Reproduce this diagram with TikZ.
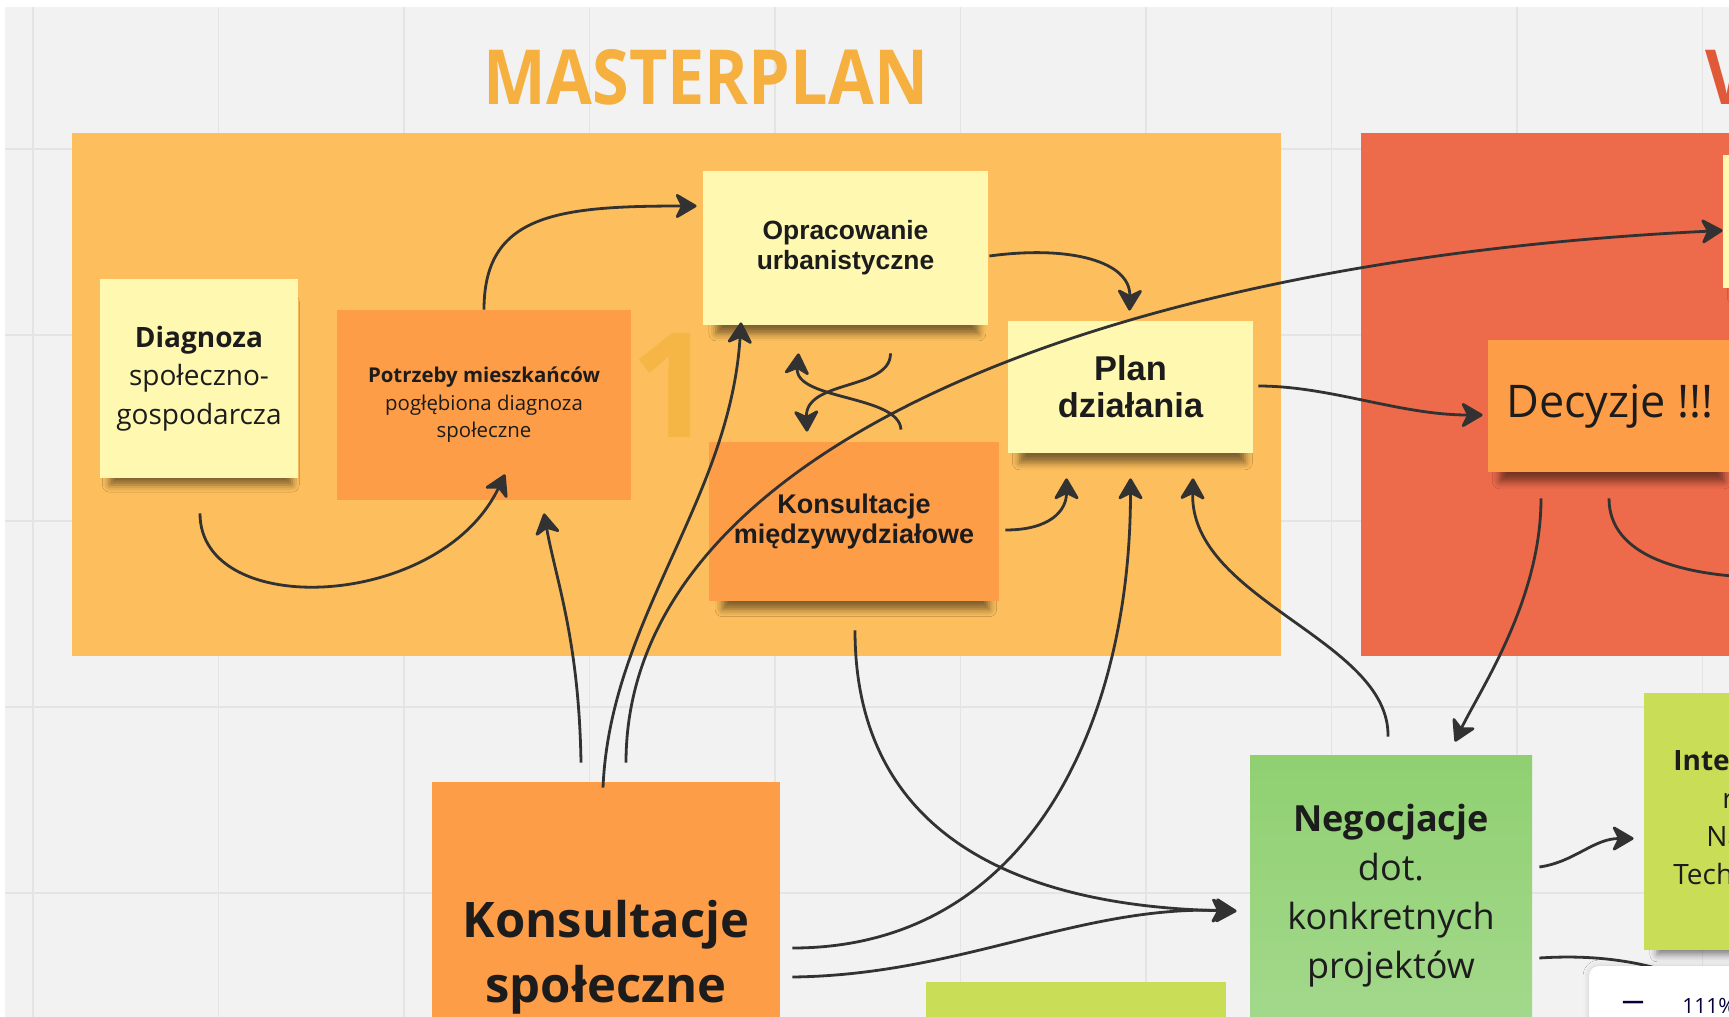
\documentclass[tikz,border=0pt]{standalone}
\usepackage{fontspec}
\setmainfont{Open Sans}
\newfontfamily\arialfont{Liberation Sans}
\usetikzlibrary{arrows.meta,calc,shadows.blur}
\definecolor{bggray}{HTML}{F2F2F2}
\definecolor{gridc}{HTML}{E4E4E4}
\definecolor{areaor}{HTML}{FDBF5D}
\definecolor{areared}{HTML}{ED6A4B}
\definecolor{titleor}{HTML}{F6B040}
\definecolor{titlered}{HTML}{E05A3A}
\definecolor{onecol}{HTML}{F6B645}
\definecolor{noteyel}{HTML}{FFF8B1}
\definecolor{noteor}{HTML}{FE9D48}
\definecolor{notegrA}{HTML}{90D071}
\definecolor{notegrB}{HTML}{A4D98D}
\definecolor{notelime}{HTML}{C9DE56}
\definecolor{notetext}{HTML}{1C1C1C}
\definecolor{linec}{HTML}{323232}
\definecolor{uitext}{HTML}{050038}
\begin{document}
\begin{tikzpicture}[x=0.5pt,y=-0.5pt,
  note/.style={inner sep=0pt,align=center,text=notetext},
  noteshadow/.style={blur shadow={shadow xshift=1pt,shadow yshift=-8pt,shadow scale=0.92,shadow opacity=50,shadow blur radius=4pt}},
  conn/.style={line width=1.4pt,draw=linec,-{Stealth[round,length=12pt,width=14pt,inset=3.5pt]}},
  plainline/.style={line width=1.4pt,draw=linec}]

\useasboundingbox (0,0) rectangle (1729,1017);
\fill[white] (0,0) rectangle (1729,1017);
\fill[bggray] (5,7) rectangle (1729,1017);

% grid
\foreach \gx in {33,218.5,...,1710}
  \draw[gridc,line width=0.8pt] (\gx,7) -- (\gx,1017);
\foreach \gy in {149,335,...,1017}
  \draw[gridc,line width=0.8pt] (5,\gy) -- (1729,\gy);

% areas
\fill[areaor] (72,133) rectangle (1281,656);
\fill[areared] (1361,133) rectangle (1760,656);

\node[anchor=base,text=titleor,font=\fontsize{38}{40}\selectfont\bfseries] (mtitle) at (706,104) {\scalebox{0.875}[1]{MASTERPLAN}};
\node[anchor=base west,text=titlered,font=\fontsize{38}{40}\selectfont\bfseries] (wtitle) at (1698,104) {\scalebox{0.875}[1]{V}};
\node[anchor=base,text=onecol,font=\fontsize{73}{75}\selectfont\bfseries] (one) at (672,437) {1};

% notes
\node[note,noteshadow,fill=noteyel,minimum width=99pt,minimum height=99.5pt,font=\fontsize{14}{19.25}\selectfont] (diag) at (199,378.5) {\textbf{Diagnoza}\\społeczno-\\gospodarcza};
\node[note,fill=noteor,minimum width=147pt,minimum height=95pt,font=\fontsize{10.2}{13.75}\selectfont] (potrz) at (484,405) {\textbf{Potrzeby mieszkańców}\\pogłębiona diagnoza\\społeczne};
\node[note,noteshadow,fill=noteyel,minimum width=142.5pt,minimum height=77pt,font=\arialfont\bfseries\fontsize{13.2}{15}\selectfont] (oprac) at (845.5,248) {Opracowanie\\urbanistyczne};
\node[note,noteshadow,fill=noteyel,minimum width=122.5pt,minimum height=66pt,font=\arialfont\bfseries\fontsize{17.2}{18.5}\selectfont] (plan) at (1130.5,387) {Plan\\działania};
\node[note,noteshadow,fill=noteor,minimum width=145pt,minimum height=79.5pt,font=\arialfont\bfseries\fontsize{13.5}{15}\selectfont] (kmw) at (854,521.5) {Konsultacje\\międzywydziałowe};
\node[note,noteshadow,fill=noteyel,minimum width=122pt,minimum height=66.5pt] (yelr) at (1845,221.5) {};
\node[note,noteshadow,fill=noteor,minimum width=122pt,minimum height=66pt,font=\fontsize{22.5}{24}\selectfont] (decyz) at (1610,406) {Decyzje !!!};
\node[note,noteshadow,fill=noteor,minimum width=174pt,minimum height=175pt,font=\fontsize{24.5}{32.5}\selectfont\bfseries] (ksp) at (606,957) {Konsultacje\\społeczne};
\node[note,fill=notelime,minimum width=150pt,minimum height=150pt] (limeb) at (1076,1132) {};
\node[note,noteshadow,top color=notegrA,bottom color=notegrB,minimum width=141pt,minimum height=141pt,font=\fontsize{18}{24.5}\selectfont] (negoc) at (1391,896) {\textbf{Negocjacje}\\dot.\\konkretnych\\projektów};
\node[note,noteshadow,fill=notelime,minimum width=141pt,minimum height=128.5pt] (inter) at (1785,821.5) {};
\node[anchor=base west,text=notetext,font=\fontsize{14}{16}\selectfont\bfseries,inner sep=0pt] (inter1) at (1673,770) {Inter};
\node[anchor=base west,text=notetext,font=\fontsize{14}{16}\selectfont,inner sep=0pt] (inter2) at (1722,808) {r};
\node[anchor=base west,text=notetext,font=\fontsize{14}{16}\selectfont,inner sep=0pt] (inter3) at (1706,846) {Na};
\node[anchor=base west,text=notetext,font=\fontsize{14}{16}\selectfont,inner sep=0pt] (inter4) at (1673,884) {Tech};

\coordinate (offr) at (1780,578);
\coordinate (offb) at (1730,1000);

% connectors
\draw[conn] ($(diag.south)+(1,35)$) .. controls +(0,107) and +(-65,136) .. ($(potrz.south)+(21,-26)$);
\draw[conn] (potrz.north) .. controls +(0,-95) and +(-140,0) .. ($(oprac.west)+(-6,-42)$);
\draw[conn] ($(oprac.east)+(1,8)$) .. controls +(81,-11) and +(1,-49) .. ($(plan.north)+(-1,-10)$);
\draw[conn] ($(kmw.north)+(47,-12)$) .. controls +(-2,-35) and +(-4,47) .. ($(oprac.south)+(-47,28)$);
\draw[conn] ($(oprac.south)+(45,28)$) .. controls +(0,37) and +(-2,-52) .. ($(kmw.north)+(-47,-10)$);
\draw[conn] ($(kmw.east)+(6,8.5)$) .. controls +(45,0) and +(0,32) .. ($(plan.south)+(-64,25)$);
\draw[conn] ($(plan.east)+(5,-1)$) .. controls +(72,0) and +(-83,0) .. ($(decyz.west)+(-5,9)$);
\draw[conn] ($(ksp.north)+(20,-19)$) .. controls +(0,-313) and +(-623,30) .. ($(yelr.west)+(0,9)$);
\draw[conn] ($(ksp.north)+(-3,6)$) .. controls +(7,-168) and +(-11,178) .. ($(oprac.south)+(-104.5,-3)$);
\draw[conn] ($(ksp.north)+(-25,-19)$) .. controls +(-2,-123) and +(12,67) .. ($(potrz.south)+(60,13)$);
\draw[conn] ($(ksp.east)+(12,-9)$) .. controls +(238,0) and +(0,242) .. ($(plan.south)+(0,25)$);
\draw[conn] ($(ksp.east)+(12,20)$) .. controls +(168,-2) and +(-157,-6) .. ($(negoc.west)+(-13,15)$);
\draw[conn] ($(kmw.south)+(1,29)$) .. controls +(0,190) and +(-237,-6) .. ($(negoc.west)+(-17,15)$);
\draw[conn] ($(negoc.north)+(-3,-18)$) .. controls +(2,-97) and +(-3,122) .. ($(plan.south)+(62.5,25)$);
\draw[conn] ($(decyz.south)+(-69,26)$) .. controls +(0,102) and +(25,-52) .. ($(negoc.north)+(64,-13)$);
\draw[plainline] ($(decyz.south)+(-1,26)$) .. controls +(0,57) and +(-100,0) .. (offr);
\draw[conn] ($(negoc.east)+(7,-29)$) .. controls +(35,-5) and +(-40,0) .. ($(inter.west)+(-10,17)$);
\draw[plainline] ($(negoc.east)+(7,62)$) .. controls +(90,-6) and +(-40,-25) .. (offb);

% zoom widget
\node[fill=white,rounded corners=5pt,minimum width=90pt,minimum height=46pt,blur shadow={shadow xshift=0pt,shadow yshift=0pt,shadow opacity=15,shadow blur radius=3pt}] (zoomw) at (1679,1012) {};
\node[text=uitext,font=\fontsize{11}{12}\selectfont\bfseries,inner sep=0pt] (zminus) at (1633,1005) {—};
\node[anchor=base west,text=uitext,font=\fontsize{10.5}{12}\selectfont,inner sep=0pt] (zpct) at (1682,1013) {111\%};
\end{tikzpicture}
\end{document}
